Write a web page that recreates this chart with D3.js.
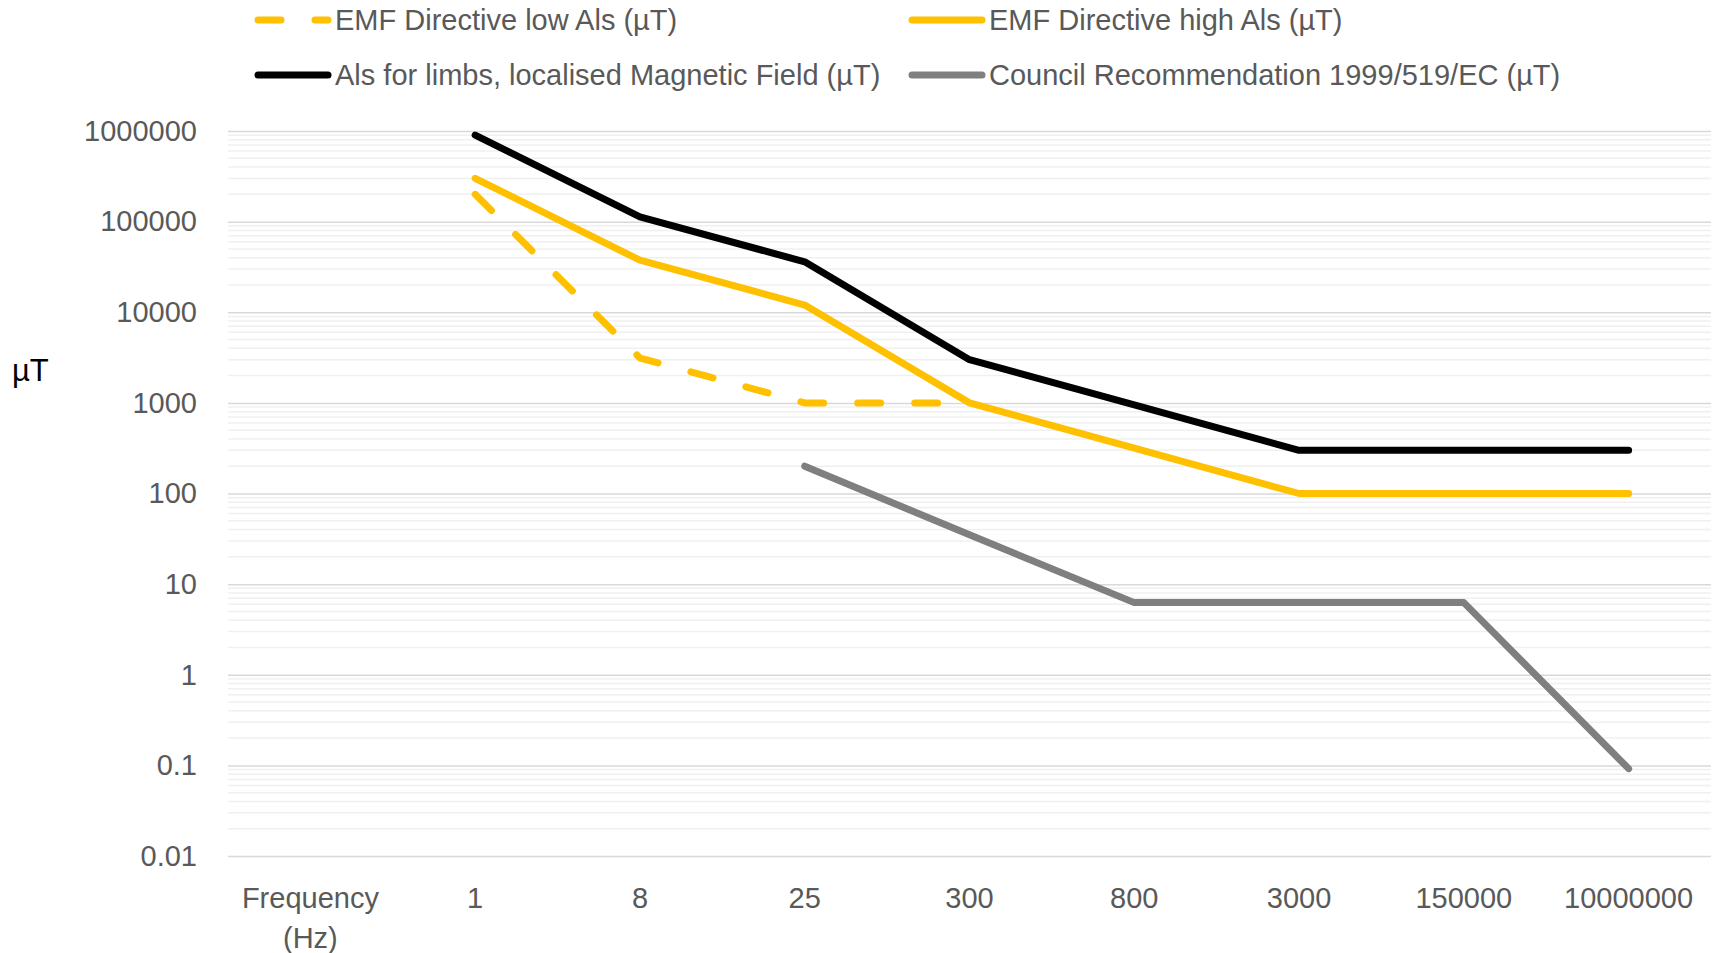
<!DOCTYPE html>
<html>
<head>
<meta charset="utf-8">
<script src="https://cdn.jsdelivr.net/npm/d3@7"></script>
<style>
  body { margin: 0; background: #fff; }
  svg text { font-family: "Liberation Sans", Arial, sans-serif; }
</style>
</head>
<body>
<div id="chart"></div>
<script>
var categories = ["Frequency (Hz)", "1", "8", "25", "300", "800", "3000", "150000", "10000000"];
var lowAls = [null, 200000, 3125, 1000, 1000, null, null, null, null];
var highAls = [null, 300000, 37500, 12000, 1000, 316, 100, 100, 100];
var limbAls = [null, 900000, 112500, 36000, 3000, 950, 300, 300, 300];
var council = [null, null, null, 200, 35, 6.25, 6.25, 6.25, 0.092];
var yTicks = [0.01, 0.1, 1, 10, 100, 1000, 10000, 100000, 1000000];
var yTickLabels = ["0.01", "0.1", "1", "10", "100", "1000", "10000", "100000", "1000000"];

var series = [
  { name: "EMF Directive low Als (\u00b5T)", values: lowAls, color: "#ffc000", dash: "23,34" },
  { name: "EMF Directive high Als (\u00b5T)", values: highAls, color: "#ffc000", dash: null },
  { name: "Als for limbs, localised Magnetic Field (\u00b5T)", values: limbAls, color: "#000000", dash: null },
  { name: "Council Recommendation 1999/519/EC (\u00b5T)", values: council, color: "#7f7f7f", dash: null }
];

var width = 1717,
  height = 953;
var margin = { top: 131, right: 6, bottom: 97, left: 228 };

var svg = d3.select("#chart").append("svg").attr("width", width).attr("height", height);

var x = d3
  .scaleBand()
  .domain(categories)
  .range([margin.left, width - margin.right])
  .padding(0);
var y = d3
  .scaleLog()
  .domain([0.01, 1000000])
  .range([height - margin.bottom, margin.top]);

// minor gridlines 2..9 in every decade
var minor = [];
yTicks.slice(0, -1).forEach(function (t) {
  for (var k = 2; k <= 9; k++) minor.push(t * k);
});
svg
  .append("g")
  .selectAll("line")
  .data(minor)
  .enter()
  .append("line")
  .attr("x1", margin.left)
  .attr("x2", width - margin.right)
  .attr("y1", function (d) { return y(d); })
  .attr("y2", function (d) { return y(d); })
  .attr("stroke", "#f0f0f0")
  .attr("stroke-width", 1.5);

var gYAxis = svg.append("g").attr("transform", "translate(" + margin.left + ",0)");
gYAxis.call(
  d3
    .axisLeft(y)
    .tickValues(yTicks)
    .tickFormat(function (d, i) { return yTickLabels[i]; })
    .tickSize(-(width - margin.right - margin.left))
    .tickPadding(31)
);
gYAxis.select(".domain").remove();
gYAxis.selectAll(".tick line").attr("stroke", "#d9d9d9").attr("stroke-width", 1.5);
gYAxis.selectAll(".tick text").attr("fill", "#595959").style("font-size", "29px");

var gXAxis = svg.append("g").attr("transform", "translate(0," + (height - margin.bottom) + ")");
gXAxis.call(d3.axisBottom(x).tickSize(0).tickPadding(31));
gXAxis.select(".domain").remove();
gXAxis
  .selectAll(".tick text")
  .attr("fill", "#595959")
  .style("font-size", "29px")
  .each(function (d) {
    var words = d.split(" ");
    if (words.length < 2) return;
    var t = d3.select(this).text(null);
    words.forEach(function (w, i) {
      t.append("tspan").attr("x", 0).attr("dy", i === 0 ? "0.71em" : "1.38em").text(w);
    });
    t.attr("dy", null);
  });

var line = d3
  .line()
  .defined(function (d) { return d.v != null; })
  .x(function (d) { return x(d.c) + x.bandwidth() / 2; })
  .y(function (d) { return y(d.v); });

svg
  .append("g")
  .selectAll("path")
  .data(series)
  .enter()
  .append("path")
  .attr("fill", "none")
  .attr("stroke", function (d) { return d.color; })
  .attr("stroke-width", 7)
  .attr("stroke-linecap", "round")
  .attr("stroke-linejoin", "round")
  .attr("stroke-dasharray", function (d) { return d.dash; })
  .attr("d", function (s) {
    return line(categories.map(function (c, i) { return { c: c, v: s.values[i] }; }));
  });

svg
  .append("text")
  .attr("x", 12)
  .attr("y", 370)
  .attr("dy", "0.35em")
  .attr("fill", "#000")
  .style("font-size", "31px")
  .text("\u00b5T");

// legend, two rows of two
var legendPos = [
  [258, 20], [912, 20],
  [258, 75], [912, 75]
];
var legend = svg
  .append("g")
  .selectAll("g")
  .data(series)
  .enter()
  .append("g")
  .attr("transform", function (d, i) { return "translate(" + legendPos[i][0] + "," + legendPos[i][1] + ")"; });
legend
  .append("line")
  .attr("x1", 0)
  .attr("x2", 70)
  .attr("stroke", function (d) { return d.color; })
  .attr("stroke-width", 7)
  .attr("stroke-linecap", "round")
  .attr("stroke-dasharray", function (d) { return d.dash; });
legend
  .append("text")
  .attr("x", 77)
  .attr("dy", "0.35em")
  .attr("fill", "#595959")
  .style("font-size", "29px")
  .text(function (d) { return d.name; });
</script>
</body>
</html>
